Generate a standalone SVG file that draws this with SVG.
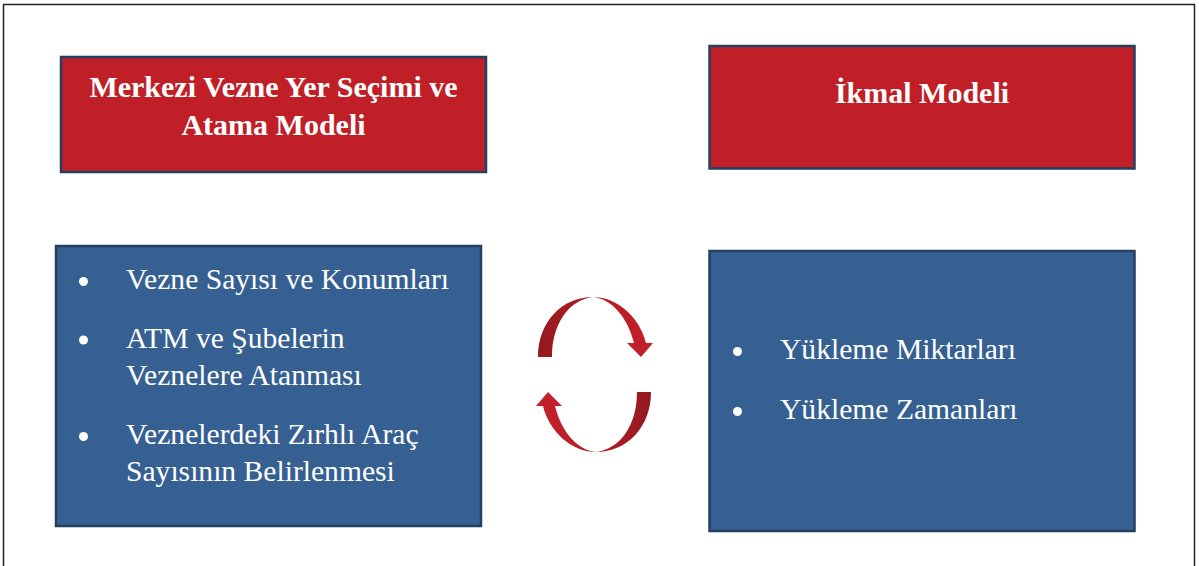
<svg xmlns="http://www.w3.org/2000/svg" width="1199" height="566" viewBox="0 0 1199 566">
<style>
.red{fill:#c01f27;stroke:#253f60;stroke-width:2.5}
.blue{fill:#366092;stroke:#24405f;stroke-width:2.5}
.title{font-family:"Liberation Serif","Times New Roman",serif;font-weight:bold;font-size:30px;fill:#fff;text-anchor:middle}
.item{font-family:"Liberation Serif","Times New Roman",serif;font-size:29.6px;fill:#fff}
.dot{fill:#fff}
</style>
<defs>
<linearGradient id="arrowGrad" x1="0" y1="0" x2="1" y2="0">
<stop offset="0" stop-color="#931a1f"/>
<stop offset="0.5" stop-color="#b51e26"/>
<stop offset="1" stop-color="#c4202a"/>
</linearGradient>
<path id="curvedArrow" d="M538,357 C538,322 562,297 593,297 C618,297 640,318 646,343 L653,343 L641,357 L627,343 L634,343 C628,318 612,299 593,297 C568,300 552,325 552,357 Z"/>
</defs>
<rect x="3.5" y="4.5" width="1191" height="575" fill="#fff" stroke="#222" stroke-width="1.5"/>
<g id="node-merkezi">
<rect class="red" x="61" y="57" width="425" height="115"/>
<text class="title" x="273.5" y="96.5">Merkezi Vezne Yer Seçimi ve</text>
<text class="title" x="273.5" y="135">Atama Modeli</text>
</g>
<g id="node-ikmal">
<rect class="red" x="709.5" y="46" width="425" height="122.5"/>
<text class="title" x="922" y="102.5">İkmal Modeli</text>
</g>
<g id="node-merkezi-items">
<rect class="blue" x="56" y="246" width="425" height="280"/>
<circle class="dot" cx="83.5" cy="281.5" r="4.5"/>
<text class="item" x="126" y="289">Vezne Sayısı ve Konumları</text>
<circle class="dot" cx="83.5" cy="340" r="4.5"/>
<text class="item" x="126" y="348">ATM ve Şubelerin</text>
<text class="item" x="126" y="385">Veznelere Atanması</text>
<circle class="dot" cx="83.5" cy="436.5" r="4.5"/>
<text class="item" x="126" y="444">Veznelerdeki Zırhlı Araç</text>
<text class="item" x="126" y="481">Sayısının Belirlenmesi</text>
</g>
<g id="node-ikmal-items">
<rect class="blue" x="709.5" y="251" width="425" height="280"/>
<circle class="dot" cx="737.5" cy="351.5" r="4.5"/>
<text class="item" x="780" y="359">Yükleme Miktarları</text>
<circle class="dot" cx="737.5" cy="411.5" r="4.5"/>
<text class="item" x="780" y="419">Yükleme Zamanları</text>
</g>
<g id="connectors">
<use href="#curvedArrow" fill="url(#arrowGrad)"/>
<use href="#curvedArrow" fill="url(#arrowGrad)" transform="rotate(180 594.5 374.5)"/>
</g>
</svg>
